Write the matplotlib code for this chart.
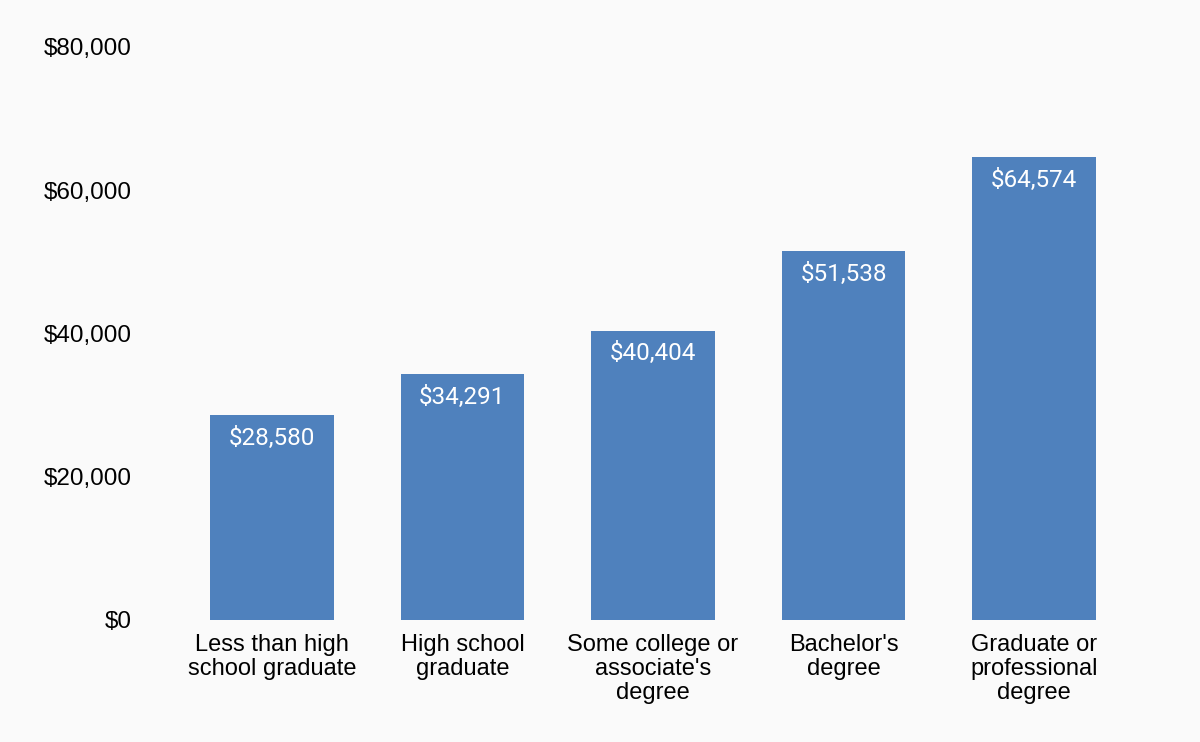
import matplotlib
matplotlib.use("Agg")
import matplotlib.pyplot as plt
from matplotlib.ticker import FuncFormatter

categories = ["Less than high\nschool graduate", "High school\ngraduate",
              "Some college or\nassociate's\ndegree", "Bachelor's\ndegree",
              "Graduate or\nprofessional\ndegree"]
values = [28580, 34291, 40404, 51538, 64574]
yticks = [0, 20000, 40000, 60000, 80000]

bg = "#fafafa"
bar_color = "#4f81bd"

fig = plt.figure(figsize=(12, 7.42), dpi=100, facecolor=bg)
ax = fig.add_axes([148/1200, 122/742, (1158-148)/1200, (620-47)/742], facecolor=bg)

x = list(range(len(categories)))
bars = ax.bar(x, values, width=0.65, color=bar_color, zorder=2)

for xi, v in zip(x, values):
    ax.annotate(f"${v:,}", xy=(xi, v), xytext=(0, -8.5), textcoords="offset points",
                ha="center", va="top", color="white", fontsize=17.5, family="Roboto")

ax.set_xlim(-0.65, len(categories) - 1 + 0.65)
ax.set_ylim(0, 80000)
ax.set_yticks(yticks)
ax.yaxis.set_major_formatter(FuncFormatter(lambda v, p: f"${int(v):,}"))
ax.set_xticks(x)
ax.set_xticklabels(categories, fontsize=17, family="Liberation Sans", linespacing=1.12)
for lab in ax.get_yticklabels():
    lab.set_fontsize(17.5)
    lab.set_family("Liberation Sans")
ax.tick_params(axis="both", length=0, colors="black")
ax.tick_params(axis="y", pad=11.5)
ax.tick_params(axis="x", pad=10)
for s in ax.spines.values():
    s.set_visible(False)

fig.savefig("out.png", dpi=100, facecolor=bg)
